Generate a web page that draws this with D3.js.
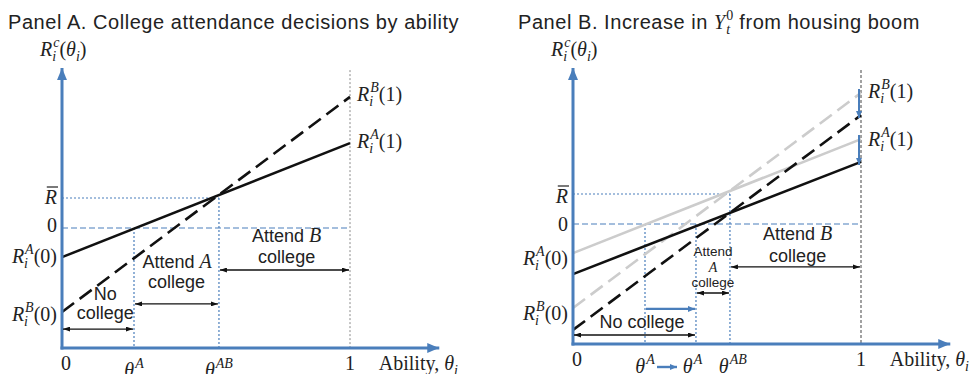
<!DOCTYPE html>
<html>
<head>
<meta charset="utf-8">
<script src="https://cdn.jsdelivr.net/npm/d3@7"></script>
<style>
  body { margin: 0; background: #fff; }
  svg { display: block; }
</style>
</head>
<body>
<div id="chart"></div>
<script>
// values (0 and R-bar are 0 and 1 on the return axis)
const ability = [0, 1];
const returnsA = [-0.97, 2.83];      // R_i^A(0), R_i^A(1)
const returnsB = [-2.8, 4.37];       // R_i^B(0), R_i^B(1)
const returnsANew = [-1.67, 2.07];   // after the housing boom
const returnsBNew = [-3.53, 3.63];
const rBar = 1;
const thetaA = 0.25;
const thetaANew = 0.427;
const thetaAB = 0.545;

const width = 971;
const height = 374;
const blue = "#4a7ebb";
const grey = "#cccccc";
const serif = "Liberation Serif, Times New Roman, serif";
const sans = "Liberation Sans, Arial, sans-serif";

const svg = d3.select("#chart").append("svg")
    .attr("width", width)
    .attr("height", height);

const defs = svg.append("defs");
function marker(id, color, len, wid) {
    defs.append("marker")
        .attr("id", id)
        .attr("markerUnits", "userSpaceOnUse")
        .attr("viewBox", `0 0 ${len} ${wid}`)
        .attr("refX", len).attr("refY", wid / 2)
        .attr("markerWidth", len).attr("markerHeight", wid)
        .attr("orient", "auto-start-reverse")
        .append("path")
        .attr("d", `M0,0L${len},${wid / 2}L0,${wid}Z`)
        .attr("fill", color);
}
marker("axisHead", blue, 12, 10);
marker("blackHead", "#111", 7, 5);
marker("blueHead", blue, 7, 6);

// lay out a bit of math: pieces go left to right, sup/sub can stack
function math(parent, x, y, pieces, anchor) {
    const g = parent.append("g");
    let cx = 0, lastStart = 0;
    pieces.forEach(p => {
        const pos = p.pos || "base";
        const size = p.size || (pos === "base" ? 20 : 14);
        const dy = pos === "sup" ? -9 : pos === "sub" ? 5 : 0;
        const startX = p.stack ? lastStart + (p.dx || 0) : cx + (p.dx || 0);
        const t = g.append("text")
            .attr("x", startX)
            .attr("y", dy)
            .attr("font-family", p.sans ? sans : serif)
            .attr("font-size", size)
            .attr("font-style", p.it ? "italic" : "normal")
            .attr("letter-spacing", p.ls || null)
            .attr("fill", "#222")
            .style("white-space", "pre")
            .text(p.t);
        const w = t.node().getComputedTextLength();
        if (p.over) {
            g.append("line")
                .attr("x1", startX + 2).attr("x2", startX + w + 1)
                .attr("y1", -17).attr("y2", -17)
                .attr("stroke", "#222").attr("stroke-width", 1.2);
        }
        if (p.stack) {
            cx = Math.max(cx, startX + w);
        } else {
            lastStart = startX;
            cx = startX + w;
        }
    });
    const shift = anchor === "end" ? -cx : anchor === "middle" ? -cx / 2 : 0;
    g.attr("transform", `translate(${x + shift},${y})`);
    return g;
}

function rLabel(sup, arg) {
    return [
        {t: "R", it: true},
        {t: sup, it: true, pos: "sup", dx: 1},
        {t: "i", it: true, pos: "sub", stack: true, dx: -1},
        {t: `(${arg})`}
    ];
}

function textLines(parent, x, lines, size) {
    lines.forEach(l => {
        parent.append("text")
            .attr("x", x)
            .attr("y", l.y)
            .attr("text-anchor", "middle")
            .attr("font-family", sans)
            .attr("font-size", size)
            .attr("fill", "#222")
            .text(l.t);
    });
}

function drawPanel(p) {
    const g = svg.append("g");
    const x = d3.scaleLinear().domain([0, 1]).range([p.left, p.left + 288]);
    const y = d3.scaleLinear().domain([0, 1]).range([p.zero, p.zero - 30]);
    const yBottom = -4;
    const line = d3.line().x((d, i) => x(ability[i])).y(d => y(d));
    const off = p.labelOffsets;

    // title
    math(g, p.titleX, 29, p.title);
    math(g, p.left - 22, 56, [
        {t: "R", it: true},
        {t: "c", it: true, pos: "sup", dx: 1},
        {t: "i", it: true, pos: "sub", stack: true, dx: -1},
        {t: "("}, {t: "θ", it: true}, {t: "i", it: true, pos: "sub"}, {t: ")"}
    ]);

    // guide lines
    g.append("line")
        .attr("x1", x(1)).attr("x2", x(1))
        .attr("y1", y(p.top) + 2).attr("y2", y(yBottom))
        .attr("stroke", "#8a8a8a").attr("stroke-width", p.thickGuide ? 1.6 : 1)
        .attr("stroke-dasharray", p.thickGuide ? "3,2" : "2,2");
    g.append("line")
        .attr("x1", x(0)).attr("x2", x(1))
        .attr("y1", y(0)).attr("y2", y(0))
        .attr("stroke", blue).attr("stroke-width", 1.2)
        .attr("stroke-dasharray", "6,3");
    g.append("line")
        .attr("x1", x(0)).attr("x2", x(thetaAB))
        .attr("y1", y(rBar)).attr("y2", y(rBar))
        .attr("stroke", blue).attr("stroke-width", 1.2)
        .attr("stroke-dasharray", "2,2");
    p.cutoffs.forEach(c => {
        g.append("line")
            .attr("x1", x(c.v)).attr("x2", x(c.v))
            .attr("y1", y(c.from)).attr("y2", y(yBottom))
            .attr("stroke", blue).attr("stroke-width", 1.2)
            .attr("stroke-dasharray", "2,2");
    });

    // return lines
    p.lines.forEach(l => {
        g.append("path")
            .attr("d", line(l.v))
            .attr("fill", "none")
            .attr("stroke", l.c)
            .attr("stroke-width", 2.6)
            .attr("stroke-dasharray", l.dash ? "15,7" : null);
    });

    // axes
    g.append("line")
        .attr("x1", x(0)).attr("x2", x(0))
        .attr("y1", y(yBottom) + 1.5).attr("y2", y(p.top))
        .attr("stroke", blue).attr("stroke-width", 3)
        .attr("marker-end", "url(#axisHead)");
    g.append("line")
        .attr("x1", x(0) - 1.5).attr("x2", x(1.31))
        .attr("y1", y(yBottom)).attr("y2", y(yBottom))
        .attr("stroke", blue).attr("stroke-width", 3)
        .attr("marker-end", "url(#axisHead)");

    // range arrows
    p.ranges.forEach(r => {
        g.append("line")
            .attr("x1", x(r.from) + 1).attr("x2", x(r.to) - 1)
            .attr("y1", y(r.y)).attr("y2", y(r.y))
            .attr("stroke", r.blue ? blue : "#111")
            .attr("stroke-width", r.blue ? 2.2 : 1.4)
            .attr("marker-start", r.blue ? null : "url(#blackHead)")
            .attr("marker-end", r.blue ? "url(#blueHead)" : "url(#blackHead)");
    });
    (p.shifts || []).forEach(s => {
        g.append("line")
            .attr("x1", x(1) - 2).attr("x2", x(1) - 2)
            .attr("y1", y(s[0]) - 4).attr("y2", y(s[1]) + 3)
            .attr("stroke", blue).attr("stroke-width", 2)
            .attr("marker-end", "url(#blueHead)");
    });

    // y labels
    const lx = x(0) - 5;
    math(g, lx, y(rBar) + off.rBar, [{t: "R", it: true, over: true}], "end");
    math(g, lx, y(0) + off.zero, [{t: "0"}], "end");
    math(g, lx, y(returnsA[0]) + off.a0, rLabel("A", 0), "end");
    math(g, lx, y(returnsB[0]) + off.b0, rLabel("B", 0), "end");
    math(g, x(1) + 7, y(returnsB[1]) + off.b1, rLabel("B", 1));
    math(g, x(1) + 7, y(returnsA[1]) + off.a1, rLabel("A", 1));

    // x labels
    const base = y(yBottom);
    math(g, x(0) + 4, base + 22, [{t: "0"}], "middle");
    math(g, x(1), base + 22, [{t: "1"}], "middle");
    math(g, x(1.1), base + 22, [{t: "Ability, "}, {t: "θ", it: true}, {t: "i", it: true, pos: "sub"}]);
    p.xLabels.forEach(l => {
        math(g, x(l.v), base + 29, [{t: "θ", it: true}, {t: l.sup, it: true, pos: "sup", dx: 1}], "middle");
    });

    p.text(g, x, y);
    return {g, x, y};
}

// Panel A
drawPanel({
    left: 62, zero: 228, top: 5.33, titleX: 8,
    title: [{t: "Panel A. College attendance decisions by ability", sans: true, size: 20, ls: 0.55}],
    labelOffsets: {rBar: 6, zero: 4, a0: 6, b0: 9, b1: 4, a1: 5},
    lines: [
        {v: returnsA, c: "#111"},
        {v: returnsB, c: "#111", dash: true}
    ],
    cutoffs: [{v: thetaA, from: 0}, {v: thetaAB, from: rBar}],
    ranges: [
        {from: 0, to: thetaA, y: -3.37},
        {from: thetaA, to: thetaAB, y: -2.53},
        {from: thetaAB, to: 1, y: -1.4}
    ],
    xLabels: [{v: thetaA, sup: "A"}, {v: thetaAB, sup: "AB"}],
    text: (g, x, y) => {
        textLines(g, x(0.15), [{t: "No", y: 300}, {t: "college", y: 319}], 18);
        math(g, x(0.4), 268, [{t: "Attend ", sans: true, size: 18}, {t: "A", it: true}], "middle");
        textLines(g, x(0.398), [{t: "college", y: 288}], 18);
        math(g, x(0.78), 242, [{t: "Attend ", sans: true, size: 18}, {t: "B", it: true}], "middle");
        textLines(g, x(0.78), [{t: "college", y: 263}], 18);
    }
});

// Panel B
drawPanel({
    left: 573, zero: 224, top: 5.2, titleX: 518, thickGuide: true,
    title: [
        {t: "Panel B. Increase in ", sans: true, size: 20, ls: 0.55},
        {t: "Y", it: true},
        {t: "0", pos: "sup", dx: 1},
        {t: "t", it: true, pos: "sub", stack: true},
        {t: " from housing boom", sans: true, size: 20, ls: 0.55}
    ],
    labelOffsets: {rBar: 9, zero: 7, a0: 12, b0: 12, b1: 5, a1: 7},
    lines: [
        {v: returnsA, c: grey},
        {v: returnsB, c: grey, dash: true},
        {v: returnsANew, c: "#111"},
        {v: returnsBNew, c: "#111", dash: true}
    ],
    cutoffs: [{v: thetaA, from: 0}, {v: thetaANew, from: 0}, {v: thetaAB, from: rBar}],
    ranges: [
        {from: 0, to: thetaANew, y: -3.7},
        {from: thetaA, to: thetaANew, y: -2.83, blue: true},
        {from: thetaANew, to: thetaAB, y: -2.3},
        {from: thetaAB, to: 1, y: -1.43}
    ],
    shifts: [[returnsB[1], returnsBNew[1]], [returnsA[1], returnsANew[1]]],
    xLabels: [{v: thetaA, sup: "A"}, {v: thetaANew - 0.012, sup: "A"}, {v: thetaAB + 0.01, sup: "AB"}],
    text: (g, x, y) => {
        textLines(g, x(0.24), [{t: "No college", y: 328}], 18);
        textLines(g, x(0.486), [{t: "Attend", y: 256}], 13.5);
        math(g, x(0.486), 272, [{t: "A", it: true, size: 14}], "middle");
        textLines(g, x(0.486), [{t: "college", y: 287}], 13.5);
        math(g, x(0.78), 240, [{t: "Attend ", sans: true, size: 18}, {t: "B", it: true}], "middle");
        textLines(g, x(0.78), [{t: "college", y: 262}], 18);
        // blue arrow between the two theta^A labels
        const by = y(-4) + 23;
        g.append("line")
            .attr("x1", x(thetaA) + 12).attr("x2", x(thetaA) + 32)
            .attr("y1", by).attr("y2", by)
            .attr("stroke", blue).attr("stroke-width", 2.4)
            .attr("marker-end", "url(#blueHead)");
    }
});
</script>
</body>
</html>
